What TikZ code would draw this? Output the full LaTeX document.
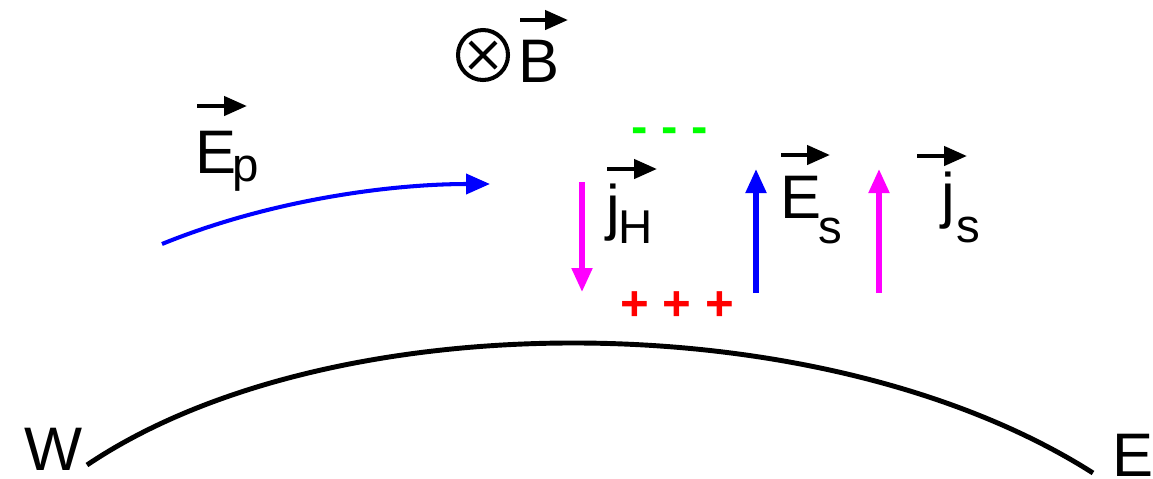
\documentclass[tikz,border=0pt]{standalone}
\usepackage{fontspec}
\setmainfont{Liberation Sans}
\usepackage{xcolor}
\usepackage{tikz}
\usetikzlibrary{arrows.meta}
\definecolor{myblue}{RGB}{0,0,255}
\definecolor{mymagenta}{RGB}{255,0,255}
\definecolor{mygreen}{RGB}{0,255,0}
\definecolor{myred}{RGB}{255,0,0}
% lowered subscript: #1 kern, #2 drop, #3 text
\newcommand{\lowsub}[3]{\kern#1\raisebox{-#2}{\fontsize{27}{30}\selectfont #3}}
\tikzset{
  letter/.style={inner sep=0pt, anchor=base west, font=\fontsize{35}{40}\selectfont},
  vecarrow/.style={-{Triangle[length=0.46cm, width=0.38cm]}, line width=2.5pt, color=black},
  fieldarrow/.style={-{Triangle[length=0.48cm, width=0.4cm]}, line width=2.9pt},
  charges/.style={inner sep=0pt, anchor=base, font=\fontsize{28}{30}\selectfont\bfseries}
}

\begin{document}
\begin{tikzpicture}[x=0.02cm, y=-0.02cm]
  \useasboundingbox (0,0) rectangle (1153,478);
  % Ground surface, west to east
  \draw[line width=2.8pt] (87,465) .. controls (330,301) and (823,301) .. (1093,473);
  \node[letter] (west) at (24,470) {W};
  \node[letter] (east) at (1112,476) {E};

  % Magnetic field into the page
  \draw[line width=2.3pt] (483,55) circle[radius=0.5cm];
  \draw[line width=2.3pt] (470,42) -- (496,68) (470,68) -- (496,42);
  \node[letter] (bfield) at (518,82) {B};
  \draw[vecarrow] (520,20) -- (568,20);

  % Primary field
  \node[letter] (ep) at (195,173) {E\lowsub{-0.08cm}{0.16cm}{p}};
  \draw[vecarrow] (197,106) -- (247,106);
  \draw[fieldarrow, myblue, line width=2.3pt] (162,244) .. controls (270,200) and (390,184) .. (490,184);

  % Charges
  \node[charges, mygreen] (minus) at (670,143) {- - -};
  \node[charges, myred] (plus) at (677,320) {+ + +};

  % Hall current
  \draw[fieldarrow, mymagenta] (582,182) -- (582,292);
  \node[letter] (jh) at (606,228) {j\lowsub{-0.04cm}{0.3cm}{H}};
  \draw[vecarrow] (607,169) -- (657,169);

  % Secondary field
  \draw[fieldarrow, myblue] (756,293) -- (756,169);
  \node[letter] (es) at (780,218) {E\lowsub{-0.06cm}{0.5cm}{s}};
  \draw[vecarrow] (781,155) -- (830,155);

  % Secondary current
  \draw[fieldarrow, mymagenta] (879,293) -- (879,169);
  \node[letter] (js) at (941,216) {j\lowsub{0.02cm}{0.52cm}{s}};
  \draw[vecarrow] (917,156) -- (967,156);
\end{tikzpicture}
\end{document}
